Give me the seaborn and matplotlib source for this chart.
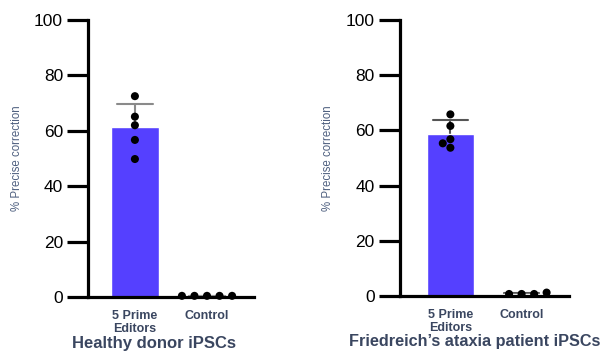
import numpy as np
import pandas as pd
import matplotlib
matplotlib.use("Agg")
import matplotlib.pyplot as plt
import seaborn as sns


# values (percent precise correction)
groups = ["5 Prime\nEditors", "Control"]
healthy_pe = [72.5, 65.1, 62.0, 56.7, 49.8]
healthy_ctrl = [0.4, 0.4, 0.4, 0.4, 0.4]
fa_pe = [65.8, 61.6, 56.8, 55.3, 53.7]
fa_ctrl = [0.7, 1.2, 0.7, 0.7]
panel_titles = ["Healthy donor iPSCs", "Friedreich\u2019s ataxia patient iPSCs"]
yticks = [0, 20, 40, 60, 80, 100]

BAR_COLOR = "#5540ff"
LABEL_COLOR = "#3a4660"
YLABEL_COLOR = "#4f6080"

sns.set_style("ticks")
plt.rcParams["font.family"] = ["Liberation Sans", "DejaVu Sans"]


def make_df(pe, ctrl):
    return pd.DataFrame({
        "group": [groups[0]] * len(pe) + [groups[1]] * len(ctrl),
        "value": pe + ctrl,
    })


fig = plt.figure(figsize=(6.03, 3.51), dpi=100)
ax1 = fig.add_axes([0.146, 0.154, 0.275, 0.789])
ax2 = fig.add_axes([0.663, 0.157, 0.280, 0.786])

panels = [
    (ax1, make_df(healthy_pe, healthy_ctrl), "#8a8a8a", (-0.65, 1.65), 0.40, 12),
    (ax2, make_df(fa_pe, fa_ctrl), "#555555", (-0.71, 1.66), 0.445, 11.7),
]

for (ax, df, err_color, xlim, title_x, title_size), title in zip(panels, panel_titles):
    sns.barplot(data=df, x="group", y="value", order=groups, ax=ax,
                color=BAR_COLOR, saturation=1, width=0.67, errorbar="sd",
                capsize=0.5, err_kws={"color": err_color, "linewidth": 1.5, "zorder": 0.5})
    # edited group: dots nearly touching; control group: dots spread wider
    sns.swarmplot(data=df[df["group"] == groups[0]], x="group", y="value", order=groups,
                  ax=ax, color="black", size=5.8, linewidth=0.3, edgecolor="none")
    sns.swarmplot(data=df[df["group"] == groups[1]], x="group", y="value", order=groups,
                  ax=ax, color="black", size=5.8, linewidth=2.8, edgecolor="none")
    for coll in list(ax.collections):
        if len(coll.get_offsets()) == 0:
            coll.remove()
            continue
        coll.set_clip_on(False)
        coll.set_zorder(3)

    ax.set_xlim(*xlim)
    ax.set_ylim(0, 100)
    ax.set_yticks(yticks)
    ax.set_xlabel("")
    ax.set_ylabel("% Precise correction", fontsize=8.3, color=YLABEL_COLOR)
    ax.yaxis.set_label_coords(-0.39, 0.5)
    sns.despine(ax=ax)
    for side in ["left", "bottom"]:
        ax.spines[side].set_linewidth(2.3)
        ax.spines[side].set_color("black")
    ax.tick_params(axis="y", length=15, width=2.3, labelsize=12.5, pad=3, colors="black")
    ax.tick_params(axis="x", length=0, pad=9.5)
    for lab in ax.get_xticklabels():
        lab.set_fontsize(9)
        lab.set_fontweight("bold")
        lab.set_color(LABEL_COLOR)
        lab.set_linespacing(1.1)
    ax.text(title_x, -0.167, title, transform=ax.transAxes, ha="center", va="center",
            fontsize=title_size, fontweight="bold", color=LABEL_COLOR)

fig.savefig("out.png", dpi=100)
